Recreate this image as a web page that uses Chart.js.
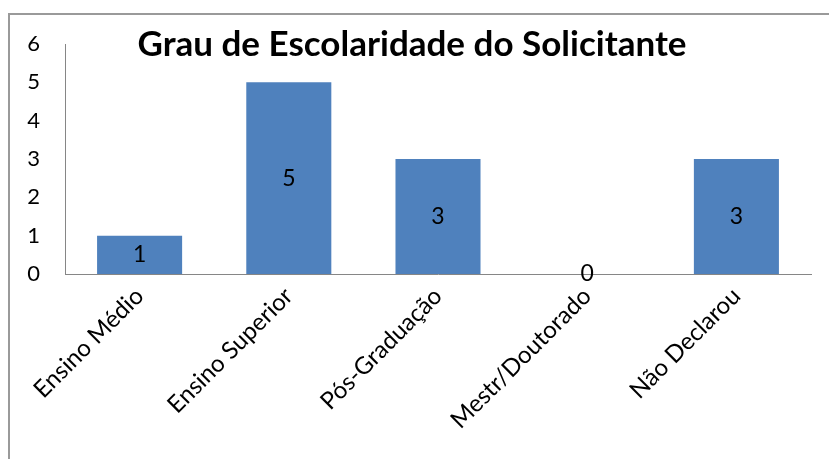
<!DOCTYPE html>
<html>
<head>
<meta charset="utf-8">
<script src="https://cdn.jsdelivr.net/npm/chart.js@4"></script>
<style>
  html, body { margin: 0; padding: 0; background: #fff; }
  .wrap { position: relative; width: 829px; height: 459px; overflow: hidden; }
  .frame { position: absolute; left: 8px; top: 13px; width: 900px; height: 600px; border: 2px solid #9a9a9a; }
  #escolaridadeChart { position: absolute; left: 0; top: 0; }
</style>
</head>
<body>
<div class="wrap">
  <div class="frame"></div>
  <canvas id="escolaridadeChart" width="829" height="459"></canvas>
</div>
<script>
const chartTitle = 'Grau de Escolaridade do Solicitante';
const categories = ['Ensino Médio', 'Ensino Superior', 'Pós-Graduação', 'Mestr/Doutorado', 'Não Declarou'];
const solicitantes = [1, 5, 3, 0, 3];
const yTicks = [0, 1, 2, 3, 4, 5, 6];

const FONT = 'Lato, "Open Sans", sans-serif';

/**
 * Title drawn over the plot area, like the spreadsheet original
 */
const overlayTitle = {
  id: 'overlayTitle',
  afterDraw(chart) {
    const ctx = chart.ctx;
    ctx.save();
    ctx.font = 'bold 35px ' + FONT;
    ctx.fillStyle = '#000';
    ctx.textAlign = 'center';
    ctx.textBaseline = 'alphabetic';
    ctx.fillText(chartTitle, 412, 56);
    ctx.restore();
  }
};

/**
 * Value labels centred inside each bar
 */
const barValues = {
  id: 'barValues',
  afterDatasetsDraw(chart) {
    const ctx = chart.ctx;
    const meta = chart.getDatasetMeta(0);
    ctx.save();
    ctx.font = '23px ' + FONT;
    ctx.fillStyle = '#000';
    ctx.textAlign = 'center';
    ctx.textBaseline = 'middle';
    meta.data.forEach(function(bar, i) {
      const y = (bar.y + bar.base) / 2;
      ctx.fillText(String(solicitantes[i]), bar.x, y);
    });
    ctx.restore();
  }
};

function initEscolaridadeChart() {
  const ctx = document.getElementById('escolaridadeChart');
  if (!ctx) return;

  new Chart(ctx, {
    type: 'bar',
    data: {
      labels: categories,
      datasets: [
        {
          label: 'Solicitantes',
          data: solicitantes,
          backgroundColor: '#4f81bd',
          borderWidth: 0,
          categoryPercentage: 1,
          barPercentage: 0.57
        }
      ]
    },
    options: {
      responsive: false,
      animation: false,
      layout: {
        padding: { top: 44, right: 18, left: 0, bottom: 0 }
      },
      plugins: {
        legend: { display: false },
        title: { display: false },
        tooltip: { enabled: false }
      },
      scales: {
        y: {
          min: 0,
          max: 6,
          afterBuildTicks: function(scale) {
            scale.ticks = yTicks.map(v => ({ value: v }));
          },
          afterFit: function(scale) {
            scale.width = 65;
          },
          grid: { display: false, drawTicks: false },
          border: { display: true, color: '#868686', width: 1 },
          ticks: {
            padding: 25,
            color: '#000',
            font: { family: FONT, size: 22 }
          }
        },
        x: {
          afterFit: function(scale) {
            scale.height = 185;
          },
          grid: { display: false, drawTicks: false },
          border: { display: true, color: '#868686', width: 1 },
          ticks: {
            minRotation: 45,
            maxRotation: 45,
            padding: 8,
            autoSkip: false,
            color: '#000',
            font: { family: FONT, size: 24 }
          }
        }
      }
    },
    plugins: [overlayTitle, barValues]
  });
}

document.addEventListener('DOMContentLoaded', initEscolaridadeChart);
</script>
</body>
</html>
